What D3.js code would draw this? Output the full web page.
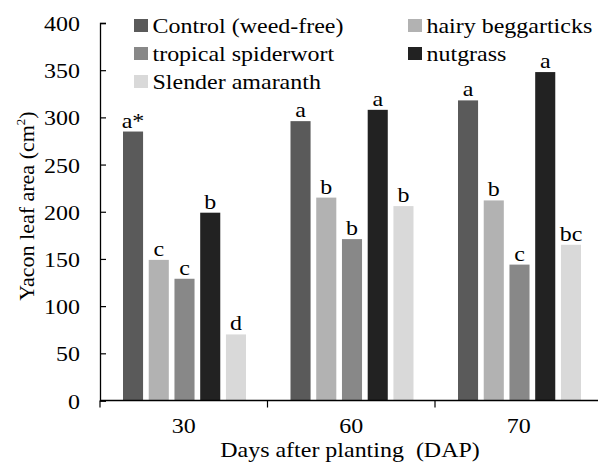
<!DOCTYPE html>
<html>
<head>
<meta charset="utf-8">
<script src="https://cdn.jsdelivr.net/npm/d3@7"></script>
<style>
  body { margin: 0; background: #fff; }
</style>
</head>
<body>
<div id="app"></div>
<script>
// data
const days = ["30", "60", "70"]
const treatments = ["Control (weed-free)", "hairy beggarticks", "tropical spiderwort", "nutgrass", "Slender amaranth"]
const colors = ["#5a5a5a", "#b2b2b2", "#888888", "#222222", "#d9d9d9"]
const leafArea = [
  [285, 149, 129, 199, 70],   // 30 DAP
  [296, 215, 171, 308, 206],  // 60 DAP
  [318, 212, 144, 348, 165],  // 70 DAP
]
const letters = [
  ["a*", "c", "c", "b", "d"],
  ["a", "b", "b", "a", "b"],
  ["a", "b", "c", "a", "bc"],
]
const yTicks = [0, 50, 100, 150, 200, 250, 300, 350, 400]

const serif = '"Liberation Serif", "Times New Roman", "DejaVu Serif", serif'
const fontSize = "22px"
const stretchX = 1.09

// dimensions
const dimensions = {
  width: 598,
  height: 466,
  margin: { top: 23, right: -4.5, bottom: 65.5, left: 100 },
}
dimensions.boundedWidth = dimensions.width - dimensions.margin.left - dimensions.margin.right
dimensions.boundedHeight = dimensions.height - dimensions.margin.top - dimensions.margin.bottom

const wrapper = d3.select("#app")
  .append("svg")
    .attr("width", dimensions.width)
    .attr("height", dimensions.height)
    .style("font-family", serif)

const bounds = wrapper.append("g")
    .attr("transform", `translate(${dimensions.margin.left},${dimensions.margin.top})`)

// scales
const x0 = d3.scaleBand()
  .domain(days)
  .range([0, dimensions.boundedWidth])
  .padding(0)

const x1 = d3.scaleBand()
  .domain(treatments)
  .range([23, 146])
  .paddingInner(0.22)

const yScale = d3.scaleLinear()
  .domain([0, 400])
  .range([dimensions.boundedHeight, 0])

const color = d3.scaleOrdinal().domain(treatments).range(colors)

// bars
const groups = bounds.selectAll(".day")
  .data(days)
  .join("g")
    .attr("class", "day")
    .attr("transform", d => `translate(${x0(d)},0)`)

const cells = (d, i) => treatments.map((t, j) => ({ t, v: leafArea[i][j], l: letters[i][j] }))

groups.selectAll("rect")
  .data(cells)
  .join("rect")
    .attr("x", d => x1(d.t))
    .attr("y", d => yScale(d.v))
    .attr("width", x1.bandwidth())
    .attr("height", d => dimensions.boundedHeight - yScale(d.v))
    .attr("fill", d => color(d.t))

groups.selectAll("text.lbl")
  .data(cells)
  .join("text")
    .attr("class", "lbl stretch")
    .attr("x", d => x1(d.t) + x1.bandwidth() / 2)
    .attr("y", d => yScale(d.v) - 4)
    .attr("text-anchor", "middle")
    .text(d => d.l)

// y axis
const yAxis = bounds.append("g")
  .call(d3.axisLeft(yScale).tickValues(yTicks).tickSize(-6))
yAxis.attr("font-family", null).attr("font-size", null)
yAxis.select(".domain").attr("stroke", "#000").attr("stroke-width", 1.3)
yAxis.selectAll(".tick line").attr("stroke", "#000").attr("stroke-width", 1.2)
yAxis.selectAll(".tick text")
    .attr("class", "stretch")
    .attr("x", -20)
    .attr("y", 7.5)
    .attr("dy", null)

// x axis
const xAxis = bounds.append("g")
    .attr("transform", `translate(0,${dimensions.boundedHeight})`)
xAxis.append("line")
    .attr("x1", 0)
    .attr("x2", dimensions.boundedWidth)
    .attr("stroke", "#000")
    .attr("stroke-width", 1.3)
xAxis.selectAll("line.tk")
  .data(days.map(d => x0(d)).concat([dimensions.boundedWidth]))
  .join("line")
    .attr("class", "tk")
    .attr("x1", d => d)
    .attr("x2", d => d)
    .attr("y1", 0)
    .attr("y2", 7)
    .attr("stroke", "#000")
    .attr("stroke-width", 1.2)
xAxis.selectAll("text.tl")
  .data(days)
  .join("text")
    .attr("class", "tl stretch")
    .attr("x", d => x0(d) + x0.bandwidth() / 2)
    .attr("y", 32)
    .attr("text-anchor", "middle")
    .text(d => d)

// axis titles
wrapper.append("text")
    .attr("class", "stretch")
    .attr("x", 350)
    .attr("y", 457)
    .attr("text-anchor", "middle")
    .attr("xml:space", "preserve")
    .style("white-space", "pre")
    .text("Days after planting  (DAP)")

const yTitle = wrapper.append("text")
    .attr("transform", "translate(34,206) rotate(-90)")
    .attr("text-anchor", "middle")
    .style("font-size", "22px")
yTitle.append("tspan").text("Yacon leaf area (cm")
yTitle.append("tspan").attr("dy", -9).style("font-size", "13px").text("2")
yTitle.append("tspan").attr("dy", 9).text(")")

// legend
const legendPos = [
  { x: 134, y: 25.5 }, { x: 408, y: 25.5 },
  { x: 134, y: 53.5 }, { x: 408, y: 53.5 },
  { x: 134, y: 81.5 },
]
const legend = wrapper.selectAll(".legend")
  .data(treatments)
  .join("g")
    .attr("class", "legend")
    .attr("transform", (d, i) => `translate(${legendPos[i].x},${legendPos[i].y})`)
legend.append("rect")
    .attr("x", 0)
    .attr("y", -6.5)
    .attr("width", 14)
    .attr("height", 13)
    .attr("fill", d => color(d))
legend.append("text")
    .attr("class", "stretch")
    .attr("x", 18.5)
    .attr("y", 7.5)
    .text(d => d)

// common text style + slight horizontal widening like the original
wrapper.selectAll("text")
    .style("font-family", serif)
    .attr("fill", "#000")
wrapper.selectAll("text.stretch").each(function () {
  const el = d3.select(this)
  const x = +el.attr("x") || 0
  const y = +el.attr("y") || 0
  el.attr("x", 0).attr("y", 0)
    .attr("transform", `translate(${x},${y}) scale(${stretchX},1)`)
    .style("font-size", fontSize)
})
</script>
</body>
</html>
